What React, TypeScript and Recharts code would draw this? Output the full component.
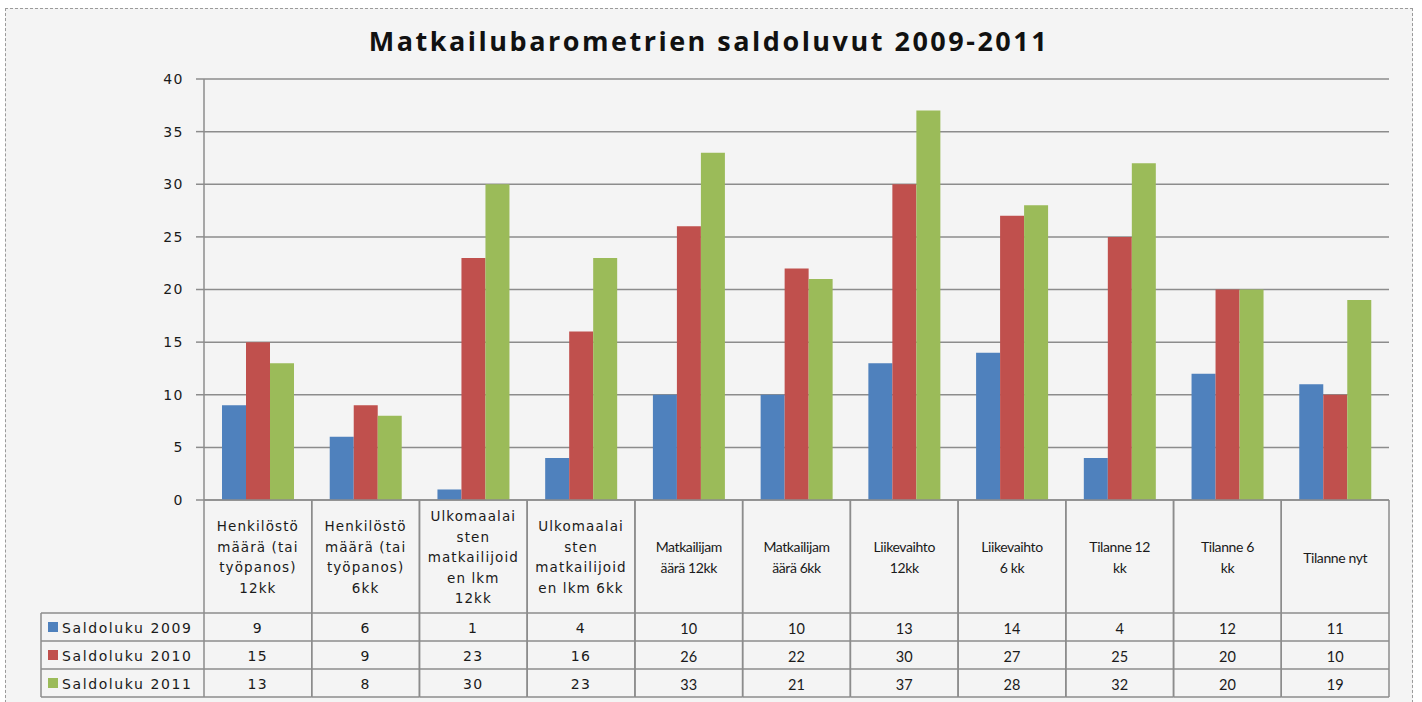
import React from "react";
import { BarChart, Bar, XAxis, YAxis, CartesianGrid } from "recharts";

const categories: string[][] = [
  ["Henkilöstö", "määrä (tai", "työpanos)", "12kk"],
  ["Henkilöstö", "määrä (tai", "työpanos)", "6kk"],
  ["Ulkomaalai", "sten", "matkailijoid", "en lkm", "12kk"],
  ["Ulkomaalai", "sten", "matkailijoid", "en lkm 6kk"],
  ["Matkailijam", "äärä 12kk"],
  ["Matkailijam", "äärä 6kk"],
  ["Liikevaihto", "12kk"],
  ["Liikevaihto", "6 kk"],
  ["Tilanne 12", "kk"],
  ["Tilanne 6", "kk"],
  ["Tilanne nyt"],
];
const s2009 = [9, 6, 1, 4, 10, 10, 13, 14, 4, 12, 11];
const s2010 = [15, 9, 23, 16, 26, 22, 30, 27, 25, 20, 10];
const s2011 = [13, 8, 30, 23, 33, 21, 37, 28, 32, 20, 19];
const seriesNames = ["Saldoluku 2009", "Saldoluku 2010", "Saldoluku 2011"];
const yTicks = [0, 5, 10, 15, 20, 25, 30, 35, 40];
const title = "Matkailubarometrien saldoluvut 2009-2011";

const COLORS = ["#4f81bd", "#c0504d", "#9bbb59"];
const series = [s2009, s2010, s2011];

const data = categories.map((c, i) => ({
  key: String(i),
  v2009: s2009[i],
  v2010: s2010[i],
  v2011: s2011[i],
}));

const W = 1422;
const H = 702;
const PLOT_L = 204;
const PLOT_R = 1389;
const PLOT_T = 79;
const PLOT_B = 500;
const BW = (PLOT_R - PLOT_L) / categories.length;
const ROWS = [613, 641, 669, 697];
const LEG_L = 41;
const LINE = "#8c8c8c";

const wideFont = "'DejaVu Sans', Verdana, sans-serif";
const narrowFont = "Lato, 'Open Sans', sans-serif";

const TableTick = (props: any) => {
  const { x, payload } = props;
  const i = payload.index;
  const left = x - BW / 2;
  const right = x + BW / 2;
  const lines = categories[i];
  const wide = i < 4;
  const fam = wide ? wideFont : narrowFont;
  const fs = wide ? 13.5 : 14;
  const ls = wide ? 1.1 : -0.4;
  const lh = 20.5;
  const cy = 557;
  const startY = cy - ((lines.length - 1) * lh) / 2;
  return (
    <g>
      {lines.map((l, k) => (
        <text
          key={k}
          x={x}
          y={startY + k * lh}
          textAnchor="middle"
          dominantBaseline="central"
          fontFamily={fam}
          fontSize={fs}
          letterSpacing={ls}
          fill="#1a1a1a"
        >
          {l}
        </text>
      ))}
      {series.map((s, r) => (
        <text
          key={"v" + r}
          x={x}
          y={(ROWS[r] + ROWS[r + 1]) / 2 + 1}
          textAnchor="middle"
          dominantBaseline="central"
          fontFamily={fam}
          fontSize={wide ? 14 : 14.5}
          letterSpacing={wide ? 1.5 : 0}
          fill="#1a1a1a"
        >
          {s[i]}
        </text>
      ))}
      <line x1={left} y1={PLOT_B} x2={left} y2={ROWS[3]} stroke={LINE} strokeWidth={1.5} />
      <line x1={right} y1={PLOT_B} x2={right} y2={ROWS[3]} stroke={LINE} strokeWidth={1.5} />
      {ROWS.map((ry, k) => (
        <line key={"h" + k} x1={left} y1={ry} x2={right} y2={ry} stroke={LINE} strokeWidth={1.5} />
      ))}
      {i === 0 && (
        <g>
          <line x1={LEG_L} y1={ROWS[0]} x2={LEG_L} y2={ROWS[3]} stroke={LINE} strokeWidth={1.5} />
          {ROWS.map((ry, k) => (
            <line key={"lh" + k} x1={LEG_L} y1={ry} x2={PLOT_L} y2={ry} stroke={LINE} strokeWidth={1.5} />
          ))}
          {seriesNames.map((n, r) => {
            const my = (ROWS[r] + ROWS[r + 1]) / 2;
            return (
              <g key={"lg" + r}>
                <rect x={48} y={my - 5} width={10} height={10} fill={COLORS[r]} />
                <text
                  x={62}
                  y={my + 1}
                  dominantBaseline="central"
                  fontFamily={wideFont}
                  fontSize={14}
                  letterSpacing={1.6}
                  fill="#1a1a1a"
                >
                  {n}
                </text>
              </g>
            );
          })}
        </g>
      )}
    </g>
  );
};

export default function App() {
  return (
    <div
      style={{
        position: "absolute",
        left: 0,
        top: 0,
        width: W,
        height: H,
        background: "#ffffff",
      }}
    >
      <div
        style={{
          position: "absolute",
          left: 5,
          top: 8,
          width: 1408,
          height: 700,
          background: "#f4f4f4",
          border: "1px dashed #9a9a9a",
          boxSizing: "border-box",
        }}
      />
      <div
        style={{
          position: "absolute",
          left: 0,
          top: 23,
          width: 1418,
          textAlign: "center",
          fontFamily: "'Open Sans', sans-serif",
          fontWeight: 700,
          fontSize: 27,
          letterSpacing: 2.5,
          color: "#111",
          lineHeight: "36px",
        }}
      >
        {title}
      </div>
      <div style={{ position: "absolute", left: 0, top: 0 }}>
        <BarChart
          width={W}
          height={H}
          data={data}
          margin={{ top: PLOT_T, right: W - PLOT_R, left: 0, bottom: 5 }}
          barGap={0}
          barCategoryGap="16%"
        >
          <CartesianGrid vertical={false} stroke={LINE} strokeWidth={1.5} />
          <YAxis
            width={PLOT_L}
            domain={[0, 40]}
            ticks={yTicks}
            interval={0}
            tickSize={8}
            tickMargin={12}
            tickLine={{ stroke: LINE, strokeWidth: 1.5 }}
            axisLine={{ stroke: LINE, strokeWidth: 1.5 }}
            tick={{ fontFamily: wideFont, fontSize: 14, fill: "#1a1a1a", letterSpacing: 1.5 }}
          />
          <XAxis
            dataKey="key"
            height={H - PLOT_B - 5}
            interval={0}
            tickLine={false}
            axisLine={{ stroke: LINE, strokeWidth: 1.5 }}
            tick={<TableTick />}
          />
          <Bar dataKey="v2009" fill={COLORS[0]} barSize={24} isAnimationActive={false} />
          <Bar dataKey="v2010" fill={COLORS[1]} barSize={24} isAnimationActive={false} />
          <Bar dataKey="v2011" fill={COLORS[2]} barSize={24} isAnimationActive={false} />
        </BarChart>
      </div>
    </div>
  );
}
